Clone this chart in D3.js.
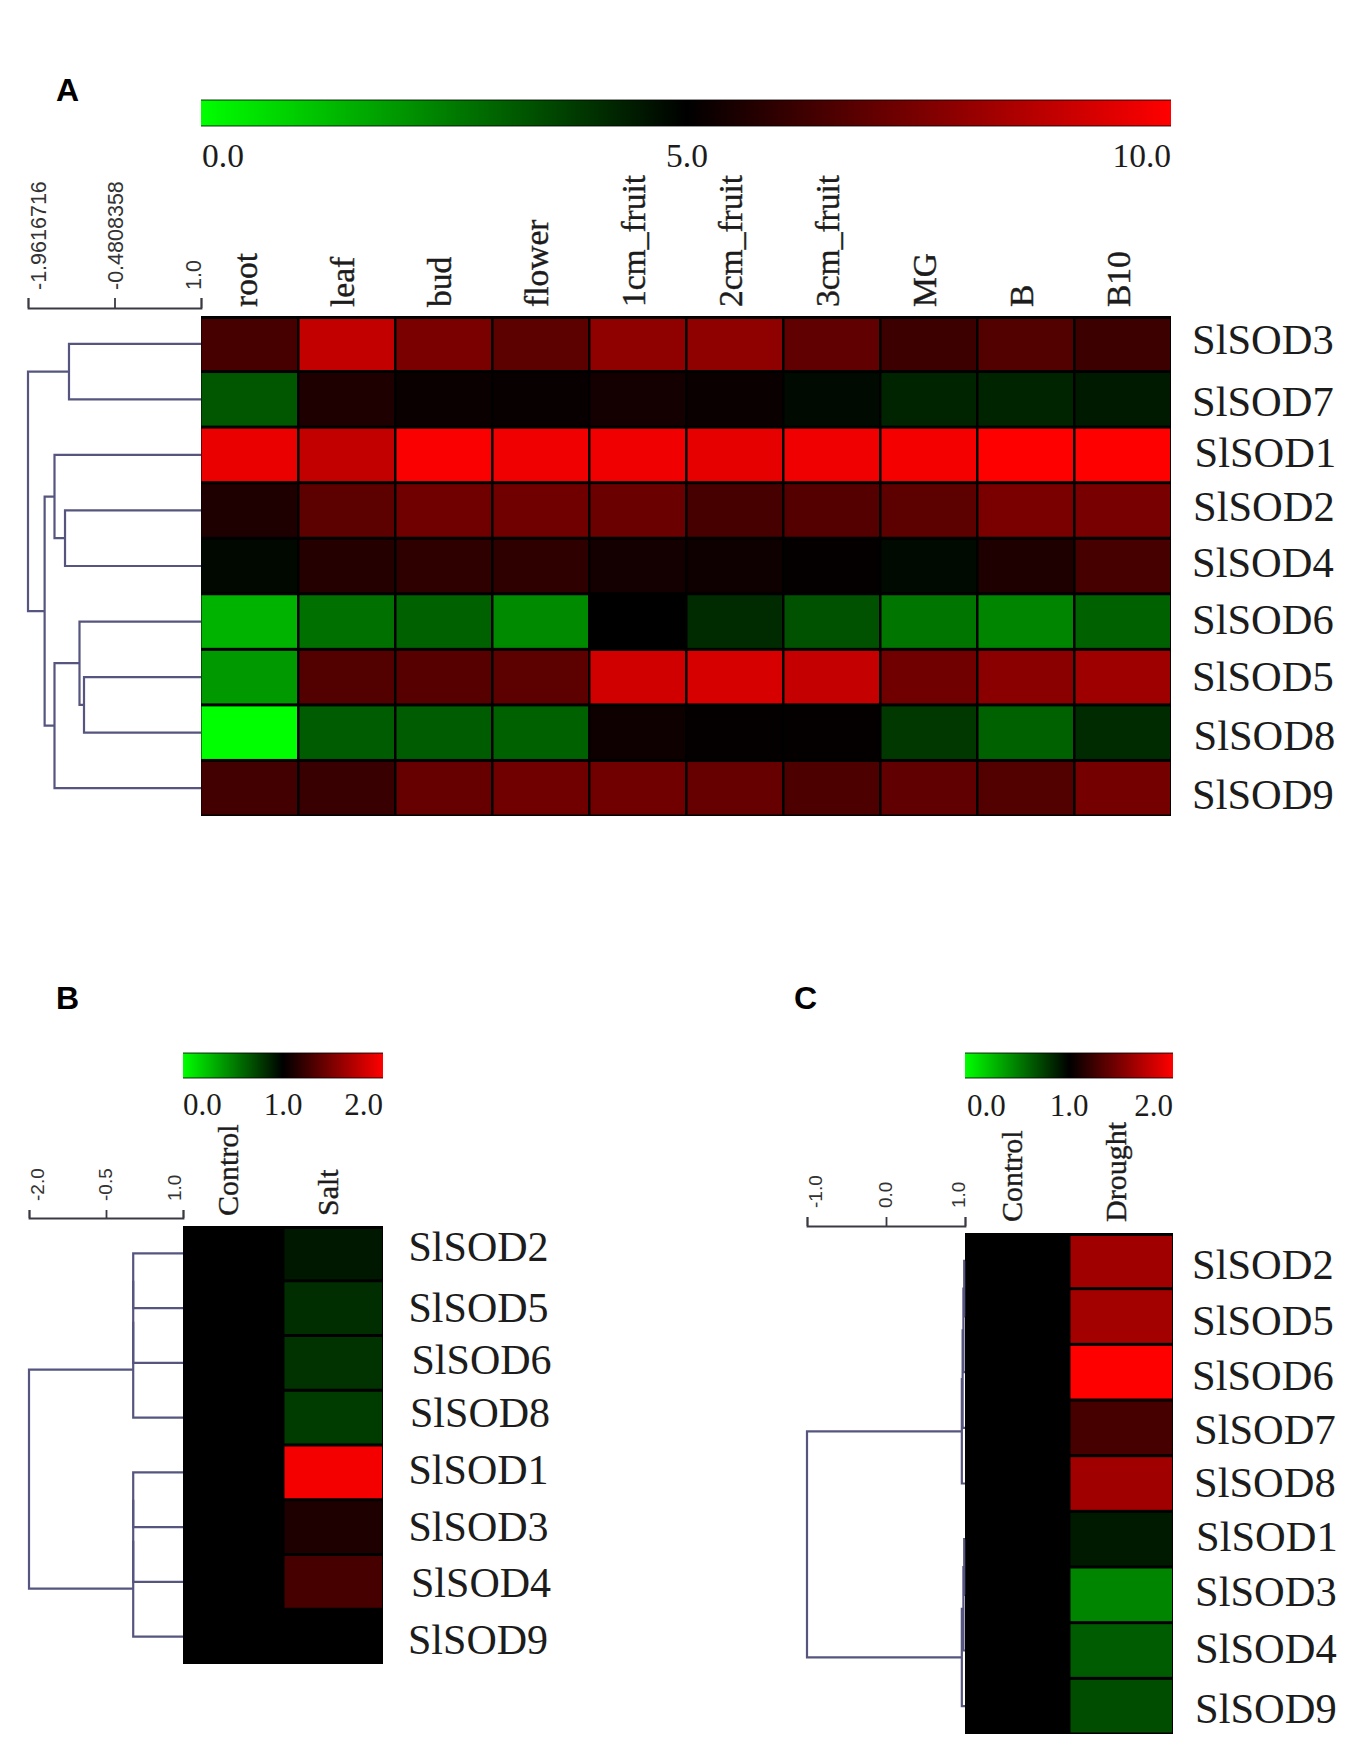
<!DOCTYPE html>
<html>
<head>
<meta charset="utf-8">
<style>
  html, body { margin: 0; padding: 0; background: #fff; }
  svg { display: block; }
  .serif { font-family: "Liberation Serif", serif; fill: #1c1c1c; }
  .sans { font-family: "Liberation Sans", sans-serif; }
  .col-label { stroke: #1c1c1c; stroke-width: 0.4; }
</style>
<script src="https://cdn.jsdelivr.net/npm/d3@7"></script>
</head>
<body>
<svg id="chart" width="1350" height="1755"></svg>
<script>
// panel A - tissues
const tissues = ["root", "leaf", "bud", "flower", "1cm_fruit", "2cm_fruit", "3cm_fruit", "MG", "B", "B10"];
const genesA = ["SlSOD3", "SlSOD7", "SlSOD1", "SlSOD2", "SlSOD4", "SlSOD6", "SlSOD5", "SlSOD8", "SlSOD9"];
const valuesA = [
  [6.4, 8.8, 7.4, 6.8, 7.8, 7.8, 6.9, 6.2, 6.6, 6.2],
  [3.3, 5.6, 5.2, 5.15, 5.4, 5.2, 4.8, 4.3, 4.3, 4.5],
  [9.6, 8.8, 9.9, 9.7, 9.7, 9.5, 9.7, 9.8, 10, 10],
  [5.6, 6.8, 7.2, 7.2, 7.1, 6.4, 6.65, 6.8, 7.4, 7.35],
  [4.85, 5.7, 5.9, 5.9, 5.4, 5.3, 5.1, 4.8, 5.6, 6.4],
  [1.5, 2.8, 3.1, 2.3, 5, 4.15, 3.4, 2.7, 2.4, 3.1],
  [2.0, 6.6, 6.7, 6.8, 9.1, 9.2, 8.85, 7.2, 7.7, 8.1],
  [0, 3.2, 3.2, 3.1, 5.3, 5.1, 5.1, 3.9, 3.1, 4.15],
  [6.3, 6.1, 7.0, 7.2, 7.2, 7.0, 6.5, 6.9, 6.6, 7.3]
];
// merges: [childA, childB, distance]. child ids >= number of genes point at earlier merges
const mergesA = [
  [0, 1, -1.26],
  [3, 4, -1.328],
  [2, 10, -1.508],
  [6, 7, -1.003],
  [5, 12, -1.08],
  [13, 8, -1.508],
  [11, 14, -1.677],
  [9, 15, -1.9617]
];
const axisTicksA = [-1.9616716, -0.4808358, 1.0];
const axisLabelsA = ["-1.9616716", "-0.4808358", "1.0"];
const scaleTicksA = [0, 5, 10];
const scaleLabelsA = ["0.0", "5.0", "10.0"];

// panel B - salt
const treatB = ["Control", "Salt"];
const genesB = ["SlSOD2", "SlSOD5", "SlSOD6", "SlSOD8", "SlSOD1", "SlSOD3", "SlSOD4", "SlSOD9"];
const valuesB = [
  [1, 0.905], [1, 0.82], [1, 0.8], [1, 0.77], [1, 1.96], [1, 1.12], [1, 1.28], [1, 1.0]
];
const mergesB = [
  [0, 1, 0.03], [8, 2, 0.03], [9, 3, 0.03],
  [4, 5, 0.03], [11, 6, 0.03], [12, 7, 0.03],
  [10, 13, -2]
];
const axisTicksB = [-2, -0.5, 1];
const axisLabelsB = ["-2.0", "-0.5", "1.0"];

// panel C - drought
const treatC = ["Control", "Drought"];
const genesC = ["SlSOD2", "SlSOD5", "SlSOD6", "SlSOD7", "SlSOD8", "SlSOD1", "SlSOD3", "SlSOD4", "SlSOD9"];
const valuesC = [
  [1, 1.63], [1, 1.64], [1, 2], [1, 1.28], [1, 1.63], [1, 0.9], [1, 0.48], [1, 0.64], [1, 0.7]
];
const mergesC = [
  [0, 1, 0.99], [9, 2, 0.98], [10, 3, 0.97], [11, 4, 0.96],
  [5, 6, 0.99], [13, 7, 0.98], [14, 8, 0.96],
  [12, 15, -1]
];
const axisTicksC = [-1, 0, 1];
const axisLabelsC = ["-1.0", "0.0", "1.0"];
const scaleTicksBC = [0, 1, 2];
const scaleLabelsBC = ["0.0", "1.0", "2.0"];

// layout only, no values in here
const panels = [
  {
    id: "A", letter: [56, 101], colorDomain: scaleTicksA, scaleTicks: scaleTicksA, scaleLabels: scaleLabelsA,
    bar: { x0: 201, x1: 1171, y0: 100, y1: 126, labelY: 167, font: 33.5, labelNudge: [1, 1, 0] },
    heat: { x0: 201, x1: 1171, y0: 316, y1: 816 },
    cols: tissues, rows: genesA, values: valuesA, merges: mergesA,
    colFont: 33.5, colOffset: 7, colY: 307,
    rowFont: 42.5,
    rowX: [1192, 1192, 1194.5, 1193, 1192, 1192, 1192, 1193.5, 1192],
    rowY: [354, 416, 467, 521, 577, 634, 691, 750, 809],
    axis: { domain: [-1.9616716, 1], x0: 28, y: 308, tick: 10, font: 21.5, labelY: 290,
            labelX: [46, 123, 201], ticks: axisTicksA, labels: axisLabelsA }
  },
  {
    id: "B", letter: [56, 1009], colorDomain: scaleTicksBC, scaleTicks: scaleTicksBC, scaleLabels: scaleLabelsBC,
    bar: { x0: 183, x1: 383, y0: 1053, y1: 1078, labelY: 1115, font: 31, labelNudge: [0, 0, 0] },
    heat: { x0: 183, x1: 383, y0: 1226, y1: 1664 },
    cols: treatB, rows: genesB, values: valuesB, merges: mergesB,
    colFont: 30, colBase: [238, 338], colY: 1216,
    rowFont: 42,
    rowX: [408.5, 408.5, 411.5, 410, 408.5, 408.5, 411, 408],
    rowY: [1261, 1322, 1374, 1427, 1484, 1541, 1597, 1654],
    axis: { domain: [-2, 1], x0: 29, y: 1218, tick: 8, font: 19, labelY: 1201,
            labelX: [44, 112, 181], ticks: axisTicksB, labels: axisLabelsB }
  },
  {
    id: "C", letter: [794, 1009], colorDomain: scaleTicksBC, scaleTicks: scaleTicksBC, scaleLabels: scaleLabelsBC,
    bar: { x0: 965, x1: 1173, y0: 1053, y1: 1078, labelY: 1116, font: 31, labelNudge: [2, 0, 0] },
    heat: { x0: 965, x1: 1173, y0: 1233, y1: 1734 },
    cols: treatC, rows: genesC, values: valuesC, merges: mergesC,
    colFont: 30, colBase: [1022, 1126], colY: 1222,
    rowFont: 42.5,
    rowX: [1192, 1192, 1192, 1194, 1194, 1196, 1195, 1195, 1195],
    rowY: [1279, 1335, 1390, 1444, 1497, 1551, 1606, 1663, 1723],
    axis: { domain: [-1, 1], x0: 807, y: 1226, tick: 9, font: 19, labelY: 1208,
            labelX: [822, 892, 965], ticks: axisTicksC, labels: axisLabelsC }
  }
];

const svg = d3.select("#chart");
const defs = svg.append("defs");
const lineColor = "#55557f";

panels.forEach(p => {
  const g = svg.append("g").attr("class", "panel-" + p.id);

  const color = d3.scaleLinear().domain(p.colorDomain).range(["#00ff00", "#000000", "#ff0000"]);

  g.append("text").attr("class", "sans")
    .attr("x", p.letter[0]).attr("y", p.letter[1])
    .attr("font-size", 32).attr("font-weight", "bold").attr("fill", "#000")
    .text(p.id);

  // color bar
  const gradId = "grad" + p.id;
  const grad = defs.append("linearGradient").attr("id", gradId);
  p.colorDomain.forEach((d, i) => {
    grad.append("stop").attr("offset", i * 50 + "%").attr("stop-color", color(d));
  });
  g.append("rect")
    .attr("x", p.bar.x0).attr("y", p.bar.y0)
    .attr("width", p.bar.x1 - p.bar.x0).attr("height", p.bar.y1 - p.bar.y0)
    .attr("fill", `url(#${gradId})`);
  // the bar has a soft dark edge along top and bottom
  [p.bar.y0, p.bar.y1].forEach(ey => {
    g.append("line")
      .attr("x1", p.bar.x0).attr("x2", p.bar.x1)
      .attr("y1", ey).attr("y2", ey)
      .attr("stroke", "#000").attr("stroke-opacity", 0.55).attr("stroke-width", 1.6);
  });

  const barX = d3.scaleLinear().domain([p.colorDomain[0], p.colorDomain[2]]).range([p.bar.x0, p.bar.x1]);
  g.selectAll(".bar-label").data(p.scaleTicks).enter().append("text")
    .attr("class", "serif bar-label")
    .attr("x", (d, i) => barX(d) + p.bar.labelNudge[i])
    .attr("y", p.bar.labelY)
    .attr("font-size", p.bar.font)
    .attr("text-anchor", (d, i) => ["start", "middle", "end"][i])
    .text((d, i) => p.scaleLabels[i]);

  // heatmap
  const x = d3.scaleBand().domain(p.cols).range([p.heat.x0, p.heat.x1]);
  const y = d3.scaleBand().domain(p.rows).range([p.heat.y0, p.heat.y1]);

  g.append("rect")
    .attr("x", p.heat.x0).attr("y", p.heat.y0)
    .attr("width", p.heat.x1 - p.heat.x0).attr("height", p.heat.y1 - p.heat.y0)
    .attr("fill", "#000");

  p.rows.forEach((gene, r) => {
    g.selectAll(".cell-" + r).data(p.values[r]).enter().append("rect")
      .attr("class", "cell-" + r)
      .attr("x", (d, c) => x(p.cols[c]) + (c ? 1.5 : 0.5))
      .attr("y", y(gene) + (r ? 1.5 : 3))
      .attr("width", (d, c) => x.bandwidth() - (c ? 2.5 : 1.5))
      .attr("height", y.bandwidth() - (r ? 3 : 4.5))
      .attr("fill", d => color(d));
  });

  // column labels
  g.selectAll(".col-label").data(p.cols).enter().append("text")
    .attr("class", "serif col-label")
    .attr("font-size", p.colFont)
    .attr("transform", (d, i) => {
      const bx = p.colBase ? p.colBase[i] : x(d) + x.bandwidth() / 2 + p.colOffset;
      return `translate(${bx},${p.colY}) rotate(-90)`;
    })
    .text(d => d);

  // row labels
  g.selectAll(".row-label").data(p.rows).enter().append("text")
    .attr("class", "serif row-label")
    .attr("x", (d, i) => p.rowX[i])
    .attr("y", (d, i) => p.rowY[i])
    .attr("font-size", p.rowFont)
    .text(d => d);

  // distance axis
  const dist = d3.scaleLinear().domain(p.axis.domain).range([p.axis.x0, p.heat.x0]);
  const axisG = g.append("g")
    .attr("transform", `translate(0,${p.axis.y})`)
    .call(d3.axisTop(dist).tickValues(p.axis.ticks).tickSize(p.axis.tick).tickFormat(""));
  axisG.selectAll("path, line").attr("stroke", "#3a3a44").attr("stroke-width", 1.8);

  g.selectAll(".axis-label").data(p.axis.labels).enter().append("text")
    .attr("class", "sans axis-label")
    .attr("fill", "#333")
    .attr("font-size", p.axis.font)
    .attr("transform", (d, i) => `translate(${p.axis.labelX[i]},${p.axis.labelY}) rotate(-90)`)
    .text(d => d);

  // dendrogram from the merge table
  const nodes = p.rows.map(gene => ({ h: 1, y: y(gene) + y.bandwidth() / 2 }));
  p.merges.forEach(([a, b, h]) => {
    const ca = nodes[a], cb = nodes[b];
    nodes.push({ h: h, y: d3.mean([ca.y, cb.y]) });
    g.append("path")
      .attr("fill", "none")
      .attr("stroke", lineColor)
      .attr("stroke-width", 2.2)
      .attr("d", `M${dist(ca.h)},${ca.y}H${dist(h)}V${cb.y}H${dist(cb.h)}`);
  });
});
</script>
</body>
</html>
